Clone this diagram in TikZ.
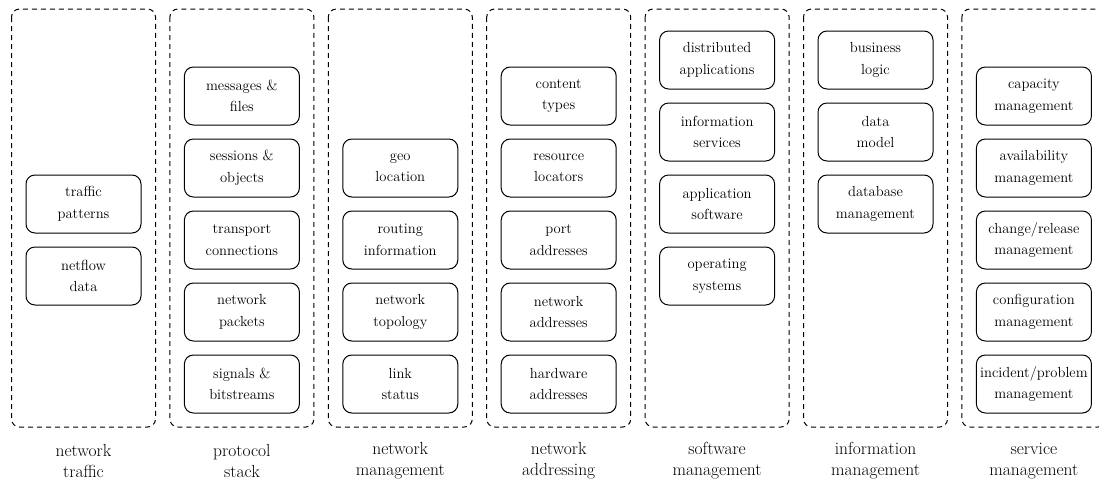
\documentclass[tikz,border=0pt]{standalone}
\begin{document}
\begin{tikzpicture}[x=1pt,y=-1pt,
  group/.style={draw, dash pattern=on 5pt off 4pt, line width=1pt, rounded corners=8pt},
  item/.style={draw, line width=1pt, rounded corners=9pt, minimum width=115pt,
    minimum height=58pt, inner sep=0pt, align=center, font=\fontsize{14.6}{21.5}\selectfont},
  caption/.style={align=center, inner sep=0pt, font=\fontsize{17.5}{21}\selectfont}]
\useasboundingbox (0,0) rectangle (1099,483);

% dashed column frames
\foreach \c [count=\i from 0] in {a,b,c,d,e,f,g} {
  \pgfmathsetmacro{\cx}{83.5+158.4*\i}
  \draw[group] (\cx-72,9) rectangle (\cx+72,427);
}

% network traffic
\node[item] (a4) at (83.5,204) {traffic\\patterns};
\node[item] (a6) at (83.5,276) {netflow\\data};
\node[caption] (la) at (83.5,461) {network\\traffic};

% protocol stack
\node[item] (b1) at (241.9,96) {messages \&\\files};
\node[item] (b3) at (241.9,168) {sessions \&\\objects};
\node[item] (b5) at (241.9,240) {transport\\connections};
\node[item] (b7) at (241.9,312) {network\\packets};
\node[item] (b9) at (241.9,384) {signals \&\\bitstreams};
\node[caption] (lb) at (241.9,461) {protocol\\stack};

% network management
\node[item] (c3) at (400.3,168) {geo\\location};
\node[item] (c5) at (400.3,240) {routing\\information};
\node[item] (c7) at (400.3,312) {network\\topology};
\node[item] (c9) at (400.3,384) {link\\status};
\node[caption] (lc) at (400.3,461) {network\\management};

% network addressing
\node[item] (d1) at (558.7,96) {content\\types};
\node[item] (d3) at (558.7,168) {resource\\locators};
\node[item] (d5) at (558.7,240) {port\\addresses};
\node[item] (d7) at (558.7,312) {network\\addresses};
\node[item] (d9) at (558.7,384) {hardware\\addresses};
\node[caption] (ld) at (558.7,461) {network\\addressing};

% software management
\node[item] (e0) at (717.1,60) {distributed\\applications};
\node[item] (e2) at (717.1,132) {information\\services};
\node[item] (e4) at (717.1,204) {application\\software};
\node[item] (e6) at (717.1,276) {operating\\systems};
\node[caption] (le) at (717.1,461) {software\\management};

% information management
\node[item] (f0) at (875.5,60) {business\\logic};
\node[item] (f2) at (875.5,132) {data\\model};
\node[item] (f4) at (875.5,204) {database\\management};
\node[caption] (lf) at (875.5,461) {information\\management};

% service management
\node[item] (g1) at (1033.9,96) {capacity\\management};
\node[item] (g3) at (1033.9,168) {availability\\management};
\node[item] (g5) at (1033.9,240) {change/release\\management};
\node[item] (g7) at (1033.9,312) {configuration\\management};
\node[item] (g9) at (1033.9,384) {incident/problem\\management};
\node[caption] (lg) at (1033.9,461) {service\\management};
\end{tikzpicture}
\end{document}
